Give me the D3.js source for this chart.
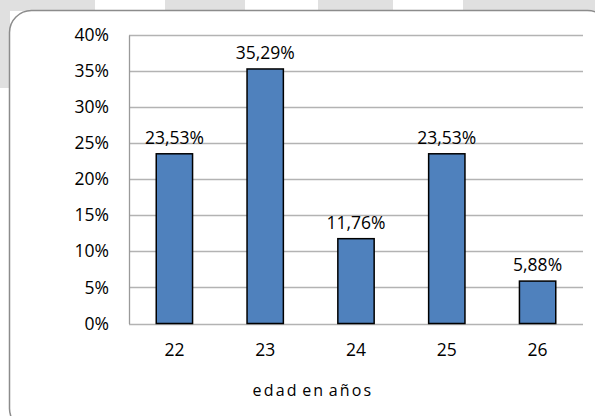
<!DOCTYPE html>
<html>
<head>
<meta charset="utf-8">
<script src="https://cdn.jsdelivr.net/npm/d3@7"></script>
<style>
  body { margin: 0; background: #fff; }
  svg { display: block; font-family: "Open Sans", "Noto Sans", sans-serif; }
</style>
</head>
<body>
<svg id="chart" width="595" height="416"></svg>
<script>
const ages = ['22', '23', '24', '25', '26']
const shares = [0.2353, 0.3529, 0.1176, 0.2353, 0.0588]
const yTicks = [0, 0.05, 0.1, 0.15, 0.2, 0.25, 0.3, 0.35, 0.4]
const xTitle = 'edad en años'

const svg = d3.select('#chart')
const width = 595, height = 416
const margin = { left: 129, right: 12, top: 35, bottom: 92.5 }

const locale = d3.formatLocale({ decimal: ',', thousands: '.', grouping: [3], currency: ['', '€'] })
const pct2 = locale.format('.2%')
const pct0 = locale.format('.0%')

// backdrop bits peeking out around the frame
const bg = svg.append('g')
bg.append('rect').attr('x', 0).attr('y', 0).attr('width', width).attr('height', 11).attr('fill', '#e0e0e0')
bg.append('rect').attr('x', 0).attr('y', 0).attr('width', 10).attr('height', 88).attr('fill', '#e0e0e0')
;[[95, 165], [245, 318], [393, 463]].forEach(([a, b]) => {
  bg.append('rect').attr('x', a).attr('y', 0).attr('width', b - a).attr('height', 11).attr('fill', '#fff')
})

svg.append('rect')
  .attr('x', 9.5).attr('y', 10.5)
  .attr('width', 600).attr('height', 420)
  .attr('rx', 22).attr('ry', 22)
  .attr('fill', '#fff')
  .attr('stroke', '#8c8c8c')
  .attr('stroke-width', 1.5)

const x = d3.scaleBand()
  .domain(ages)
  .range([margin.left, width - margin.right])
  .paddingInner(0.6).paddingOuter(0.3)

const y = d3.scaleLinear()
  .domain([0, 0.4])
  .range([height - margin.bottom, margin.top])

// gridlines
svg.append('g')
  .selectAll('line')
  .data(yTicks)
  .join('line')
  .attr('x1', margin.left).attr('x2', width - margin.right)
  .attr('y1', d => Math.round(y(d)) + 0.5).attr('y2', d => Math.round(y(d)) + 0.5)
  .attr('stroke', '#b3b3b3')
  .attr('stroke-width', 1.3)

// y axis
const yAxis = svg.append('g')
  .attr('transform', `translate(${margin.left},0)`)
  .call(d3.axisLeft(y).tickValues(yTicks).tickFormat(pct0).tickSize(0).tickPadding(20))
yAxis.select('.domain').attr('stroke', '#9a9a9a').attr('stroke-width', 1.3)
yAxis.selectAll('text').attr('font-size', 17.5).attr('fill', '#000')
yAxis.attr('font-family', null)

// x axis
const xAxis = svg.append('g')
  .attr('transform', `translate(0,${height - margin.bottom})`)
  .call(d3.axisBottom(x).tickSize(0).tickPadding(20))
xAxis.select('.domain').remove()
xAxis.selectAll('text').attr('font-size', 17.5).attr('fill', '#000')
xAxis.attr('font-family', null)

// bars
svg.append('g')
  .selectAll('rect')
  .data(ages)
  .join('rect')
  .attr('x', d => x(d))
  .attr('y', (d, i) => y(shares[i]))
  .attr('width', x.bandwidth())
  .attr('height', (d, i) => y(0) - y(shares[i]))
  .attr('fill', '#4f81bd')
  .attr('stroke', '#000')
  .attr('stroke-width', 1.5)

// value labels
svg.append('g')
  .selectAll('text')
  .data(ages)
  .join('text')
  .attr('x', d => x(d) + x.bandwidth() / 2)
  .attr('y', (d, i) => y(shares[i]) - 10)
  .attr('text-anchor', 'middle')
  .attr('font-size', 17.5)
  .text((d, i) => pct2(shares[i]))

svg.append('text')
  .attr('x', 313)
  .attr('y', 396)
  .attr('text-anchor', 'middle')
  .attr('font-size', 16)
  .attr('letter-spacing', 2.2)
  .attr('word-spacing', -3)
  .text(xTitle)
</script>
</body>
</html>
